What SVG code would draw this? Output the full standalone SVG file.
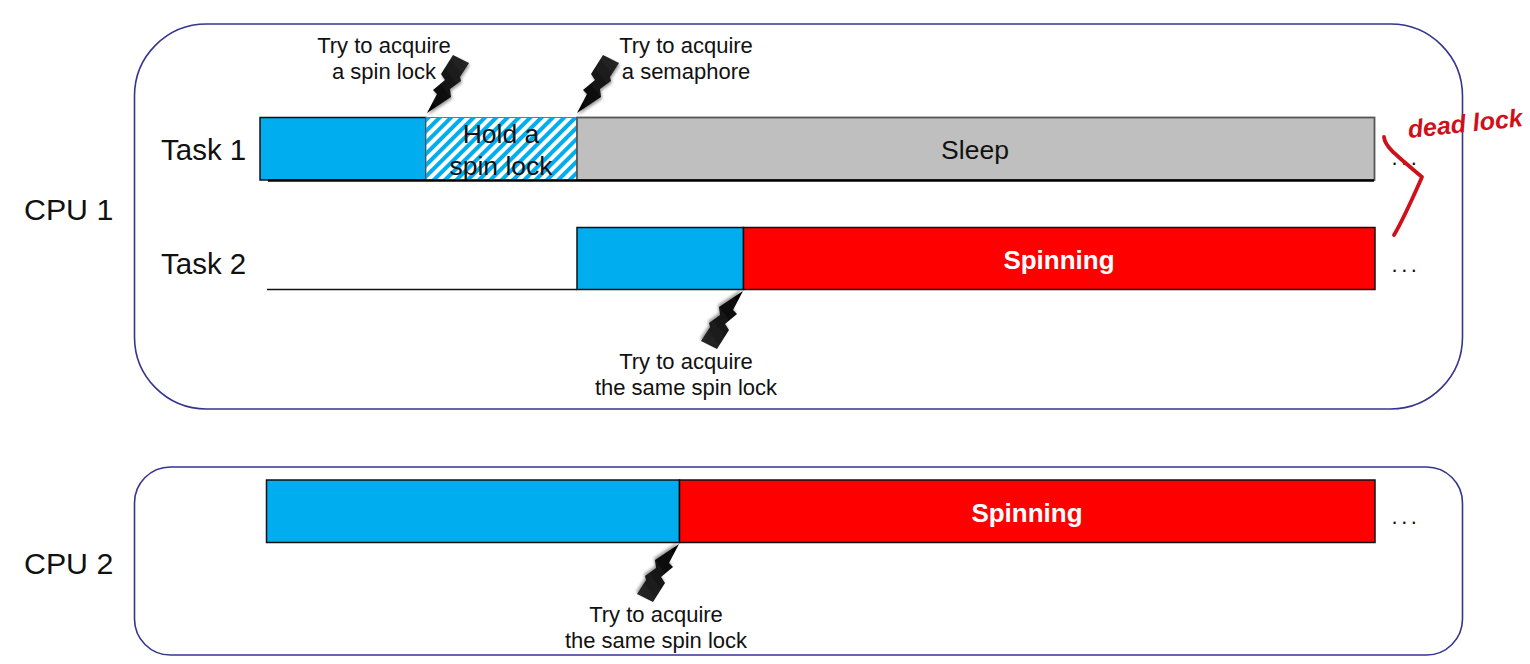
<svg xmlns="http://www.w3.org/2000/svg" width="1530" height="664" viewBox="0 0 1530 664">
<style>
text{font-family:"Liberation Sans",Arial,sans-serif;fill:#111;text-anchor:middle}
.frame{fill:#fff;stroke:#35358f;stroke-width:1.6}
.lbl{font-size:29.500px;text-anchor:start}
.cpu{font-size:30.300px}
.note{font-size:22px}
.mid{font-size:26.500px}
.spin{font-size:26px;font-weight:bold;fill:#fff}
.dots{font-size:22px;letter-spacing:3.500px}
.bar{stroke:#111;stroke-width:1.5}
.blue{fill:#00adef}
.red{fill:#ff0000}
.ink{fill:none;stroke:#d01018;stroke-width:3.800;stroke-linecap:round;stroke-linejoin:round}
</style>
<defs>
<pattern id="hatch" width="8" height="8" patternUnits="userSpaceOnUse" patternTransform="rotate(45)">
<rect width="8" height="8" fill="#fff"/><rect width="4" height="8" fill="#00adef"/>
</pattern>
<linearGradient id="bg" x1="0" y1="1" x2="1" y2="0"><stop offset="0" stop-color="#000"/><stop offset="1" stop-color="#2a2a2a"/></linearGradient>
<filter id="sh" x="-30%" y="-30%" width="170%" height="170%"><feGaussianBlur in="SourceAlpha" stdDeviation="1.6"/><feOffset dx="1" dy="2"/><feComponentTransfer><feFuncA type="linear" slope="0.4"/></feComponentTransfer><feMerge><feMergeNode/><feMergeNode in="SourceGraphic"/></feMerge></filter>
<polygon id="bolt" points="0,0 10,-19 6,-23 18,-33 14,-39 26,-58 42,-50 33,-36 34,-32 23,-24 24,-16" fill="url(#bg)" filter="url(#sh)"/>
</defs>
<g id="cpu1">
<rect class="frame" x="134.500" y="24" width="1328" height="385" rx="72"/>
<text class="lbl cpu" x="24" y="220">CPU 1</text>
</g>
<g id="cpu2">
<rect class="frame" x="134.500" y="467" width="1328" height="188" rx="36"/>
<text class="lbl cpu" x="24" y="574">CPU 2</text>
</g>
<g id="task1">
<text class="lbl" x="161" y="160">Task 1</text>
<rect x="260" y="117.500" width="166" height="62.500" class="blue bar"/>
<rect id="hold" x="426" y="117.500" width="151" height="62.500" fill="url(#hatch)" stroke="#777" stroke-width="1"/>
<text class="mid" x="501" y="143">Hold a</text>
<text class="mid" x="501" y="175">spin lock</text>
<rect x="577" y="117.500" width="797.500" height="62.500" fill="#bfbfbf" stroke="#555" stroke-width="1.800"/>
<text class="mid" x="975" y="159">Sleep</text>
<line x1="268" y1="180.500" x2="1374" y2="180.500" stroke="#000" stroke-width="2.500"/>
<text class="dots" x="1406" y="165">...</text>
</g>
<g id="task2">
<text class="lbl" x="161" y="274">Task 2</text>
<line x1="267" y1="289.500" x2="577" y2="289.500" stroke="#111" stroke-width="1.500"/>
<rect x="577" y="227.500" width="166.500" height="62" class="blue bar"/>
<rect x="743.500" y="227.500" width="631.500" height="62" class="red bar"/>
<text class="spin" x="1059" y="269">Spinning</text>
<text class="dots" x="1406" y="272">...</text>
</g>
<g id="cpu2-task">
<rect x="266.500" y="480" width="413" height="62.500" class="blue bar"/>
<rect x="679.500" y="480" width="695.500" height="62.500" class="red bar"/>
<text class="spin" x="1027" y="522">Spinning</text>
<text class="dots" x="1406" y="524">...</text>
</g>
<g id="bolts">
<use href="#bolt" x="427" y="113"/>
<use href="#bolt" x="577" y="113"/>
<use href="#bolt" transform="translate(743 291) rotate(180)"/>
<use href="#bolt" transform="translate(679 544) rotate(180)"/>
</g>
<g id="notes">
<text class="note" x="384" y="53">Try to acquire</text>
<text class="note" x="384" y="79">a spin lock</text>
<text class="note" x="686" y="53">Try to acquire</text>
<text class="note" x="686" y="79">a semaphore</text>
<text class="note" x="686" y="369">Try to acquire</text>
<text class="note" x="686" y="395">the same spin lock</text>
<text class="note" x="656" y="622">Try to acquire</text>
<text class="note" x="656" y="648">the same spin lock</text>
</g>
<g id="annotation">
<path class="ink" d="M1384 137 C1385 147 1396 155 1422 177 C1414 195 1404 218 1394 235"/>
<text x="1466" y="132" transform="rotate(-6 1466 132)" style="font-size:25px;font-style:italic;font-weight:bold;fill:#d01018">dead lock</text>
</g>
</svg>
